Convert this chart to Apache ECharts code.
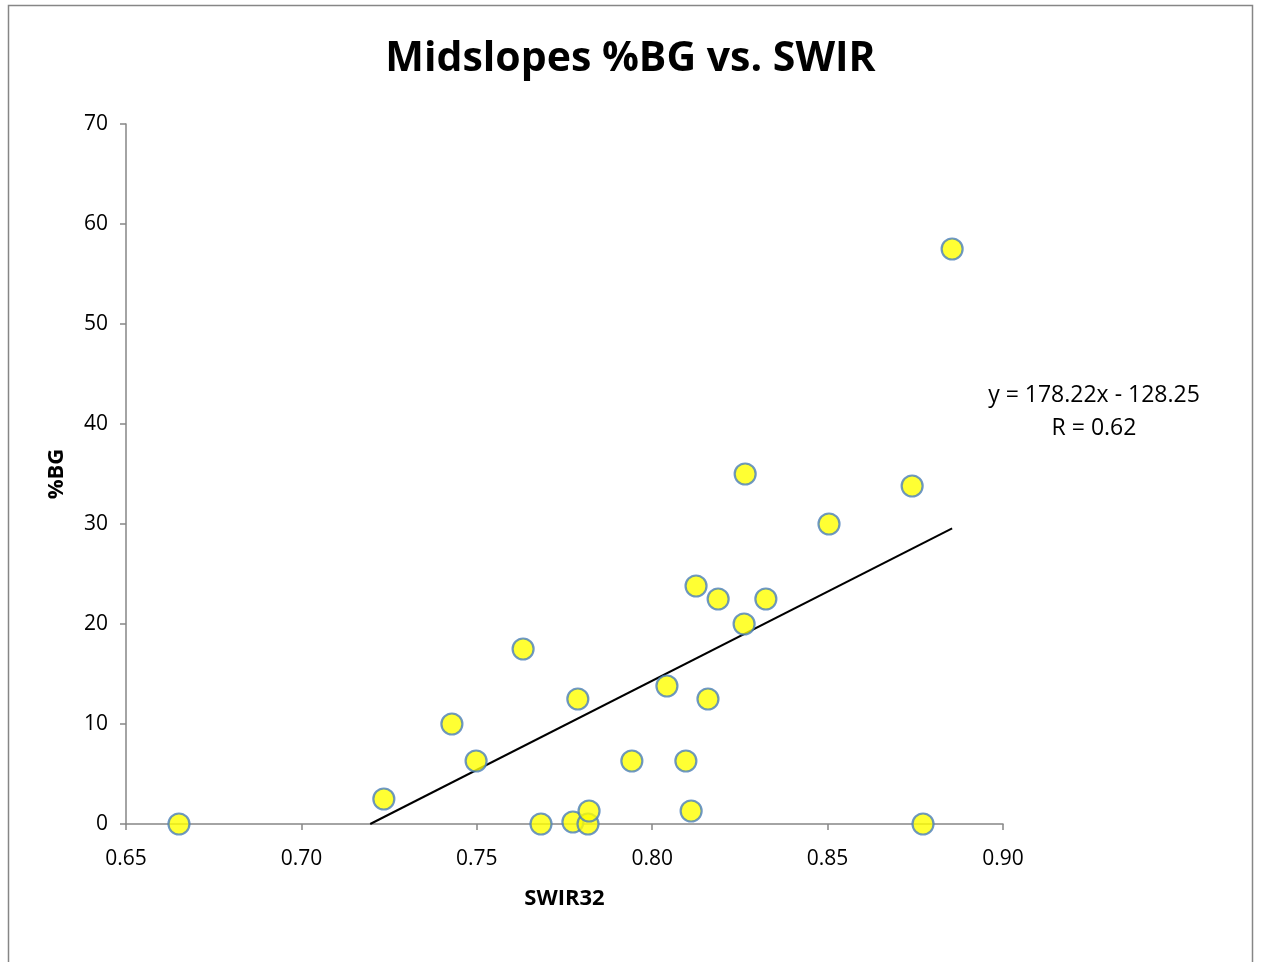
<!DOCTYPE html>
<html>
<head>
<meta charset="utf-8">
<script src="https://cdn.jsdelivr.net/npm/echarts@6/dist/echarts.min.js"></script>
<style>
  html, body { margin: 0; padding: 0; background: #fff; }
  #chart { width: 1261px; height: 962px; }
</style>
</head>
<body>
<div id="chart"></div>
<script>
// SWIR32 vs %BG
var swir = [0.6651, 0.7235, 0.7429, 0.7498, 0.7632, 0.7683, 0.7774, 0.7817, 0.7820, 0.7788,
            0.7942, 0.8042, 0.8096, 0.8111, 0.8125, 0.8159, 0.8188, 0.8262, 0.8265, 0.8324,
            0.8504, 0.8741, 0.8772, 0.8855];
var bg = [0, 2.5, 10, 6.3, 17.5, 0, 0.2, 0, 1.3, 12.5,
          6.3, 13.8, 6.3, 1.3, 23.8, 12.5, 22.5, 20, 35, 22.5,
          30, 33.8, 0, 57.5];

// trend line y = 178.22x - 128.25
var slope = 178.22, intercept = -128.25;
var trendX = [-intercept / slope, 0.8855];

var xTicks = ['0.65', '0.70', '0.75', '0.80', '0.85', '0.90'];

var points = swir.map(function (x, i) { return [x, bg[i]]; });
var trend = trendX.map(function (x) { return [x, slope * x + intercept]; });

var font = 'Open Sans';
var myChart = echarts.init(document.getElementById('chart'));
var option = {
    animation: false,
    backgroundColor: '#fff',
    title: {
        text: 'Midslopes %BG vs. SWIR',
        left: 'center',
        top: 34,
        textStyle: { fontFamily: font, fontWeight: 'bold', fontSize: 41, color: '#000' }
    },
    grid: { left: 126, right: 258, top: 124, bottom: 138 },
    xAxis: {
        type: 'value',
        min: 0.65, max: 0.90, interval: 0.05,
        name: 'SWIR32',
        nameLocation: 'middle',
        nameGap: 64,
        nameTextStyle: { fontFamily: font, fontWeight: 'bold', fontSize: 22, color: '#000' },
        axisLine: { lineStyle: { color: '#868686', width: 1.5 } },
        axisTick: { show: true, inside: false, length: 6, lineStyle: { color: '#868686', width: 1.5 } },
        axisLabel: {
            fontFamily: font, fontSize: 21, color: '#000', margin: 25,
            formatter: function (v) { return xTicks[Math.round((v - 0.65) / 0.05)]; }
        },
        splitLine: { show: false }
    },
    yAxis: {
        type: 'value',
        min: 0, max: 70, interval: 10,
        name: '%BG',
        nameLocation: 'middle',
        nameGap: 58,
        nameTextStyle: { fontFamily: font, fontWeight: 'bold', fontSize: 22, color: '#000' },
        axisLine: { show: true, lineStyle: { color: '#868686', width: 1.5 } },
        axisTick: { show: true, inside: false, length: 6, lineStyle: { color: '#868686', width: 1.5 } },
        axisLabel: { fontFamily: font, fontSize: 21, color: '#000', margin: 18 },
        splitLine: { show: false }
    },
    series: [
        {
            type: 'line',
            data: trend,
            showSymbol: false,
            lineStyle: { color: '#000', width: 2 },
            z: 1
        },
        {
            type: 'scatter',
            data: points,
            symbol: 'circle',
            symbolSize: 21,
            itemStyle: { color: '#FFFF00', borderColor: '#4A7EBB', borderWidth: 2.2 },
            z: 3
        }
    ],
    graphic: [
        {
            type: 'rect',
            shape: { x: 8.5, y: 5.5, width: 1244, height: 970 },
            style: { fill: 'none', stroke: '#868686', lineWidth: 1.5 },
            silent: true
        },
        {
            type: 'text',
            x: 1094, y: 379,
            style: {
                text: 'y = 178.22x - 128.25\nR = 0.62',
                fontFamily: font, fontSize: 23, fill: '#000',
                align: 'center', lineHeight: 33
            }
        }
    ]
};
myChart.setOption(option);
</script>
</body>
</html>
